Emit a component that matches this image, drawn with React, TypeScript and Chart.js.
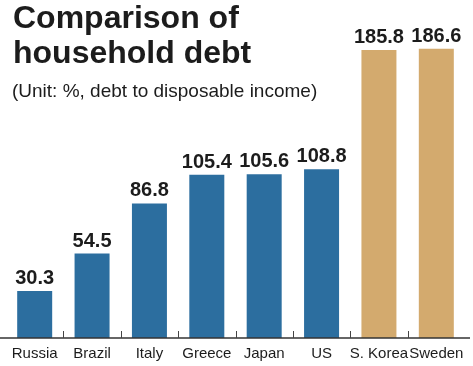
import React, { useEffect, useRef } from "react";
import { Chart, registerables } from "chart.js";

Chart.register(...registerables);

const categories = ["Russia", "Brazil", "Italy", "Greece", "Japan", "US", "S. Korea", "Sweden"];
const values = [30.3, 54.5, 86.8, 105.4, 105.6, 108.8, 185.8, 186.6];
const highlighted = [false, false, false, false, false, false, true, true];
const titleLines = ["Comparison of", "household debt"];
const subtitle = "(Unit: %, debt to disposable income)";

const BLUE = "#2c6e9f";
const GOLD = "#d3aa6e";
const INK = "#1c1c1c";
const SANS = "'Liberation Sans', Arial, Helvetica, sans-serif";

const overlayPlugin = {
  id: "overlay",
  afterDraw(chart: any) {
    const ctx = chart.ctx as CanvasRenderingContext2D;
    const meta = chart.getDatasetMeta(0);
    const xs = chart.scales.x;
    const base = chart.chartArea.bottom;
    ctx.save();

    // value labels
    ctx.font = `bold 20px ${SANS}`;
    ctx.fillStyle = INK;
    ctx.textAlign = "center";
    ctx.textBaseline = "alphabetic";
    meta.data.forEach((bar: any, i: number) => {
      ctx.fillText(values[i].toFixed(1), bar.x, bar.y - 7);
    });

    // axis line
    ctx.strokeStyle = "#333";
    ctx.lineWidth = 1.5;
    ctx.beginPath();
    ctx.moveTo(0, base);
    ctx.lineTo(470, base);
    ctx.stroke();

    // separators between categories
    ctx.lineWidth = 1;
    ctx.strokeStyle = "#444";
    for (let i = 1; i < categories.length; i++) {
      const x = Math.round((xs.getPixelForValue(i - 1) + xs.getPixelForValue(i)) / 2) + 0.5;
      ctx.beginPath();
      ctx.moveTo(x, base - 7);
      ctx.lineTo(x, base);
      ctx.stroke();
    }

    // title & subtitle
    ctx.textAlign = "left";
    ctx.fillStyle = INK;
    ctx.font = `bold 32px ${SANS}`;
    ctx.fillText(titleLines[0], 13, 28);
    ctx.fillText(titleLines[1], 13, 63);
    ctx.font = `19px ${SANS}`;
    ctx.fillText(subtitle, 12, 97);

    ctx.restore();
  },
};

export default function App() {
  const canvasRef = useRef<HTMLCanvasElement | null>(null);

  useEffect(() => {
    document.body.style.margin = "0";
    const canvas = canvasRef.current;
    if (!canvas) return;
    const chart = new Chart(canvas, {
      type: "bar",
      data: {
        labels: categories,
        datasets: [
          {
            data: values,
            backgroundColor: highlighted.map((h) => (h ? GOLD : BLUE)),
            borderWidth: 0,
            barPercentage: 0.61,
            categoryPercentage: 1,
          },
        ],
      },
      options: {
        animation: false,
        responsive: true,
        maintainAspectRatio: false,
        layout: { padding: { top: 28, left: 6, right: 8, bottom: -4 } },
        plugins: {
          legend: { display: false },
          title: { display: false },
          tooltip: { enabled: false },
        },
        scales: {
          x: {
            grid: { display: false, drawTicks: false, tickLength: 0 },
            border: { display: false },
            ticks: {
              color: INK,
              padding: 7,
              maxRotation: 0,
              minRotation: 0,
              autoSkip: false,
              font: { family: SANS, size: 15 },
            },
          },
          y: {
            display: false,
            min: 0,
            max: 200,
          },
        },
      },
      plugins: [overlayPlugin],
    });
    return () => chart.destroy();
  }, []);

  return (
    <div style={{ position: "fixed", left: 0, top: 0, width: 473, height: 366 }}>
      <canvas ref={canvasRef} />
    </div>
  );
}
